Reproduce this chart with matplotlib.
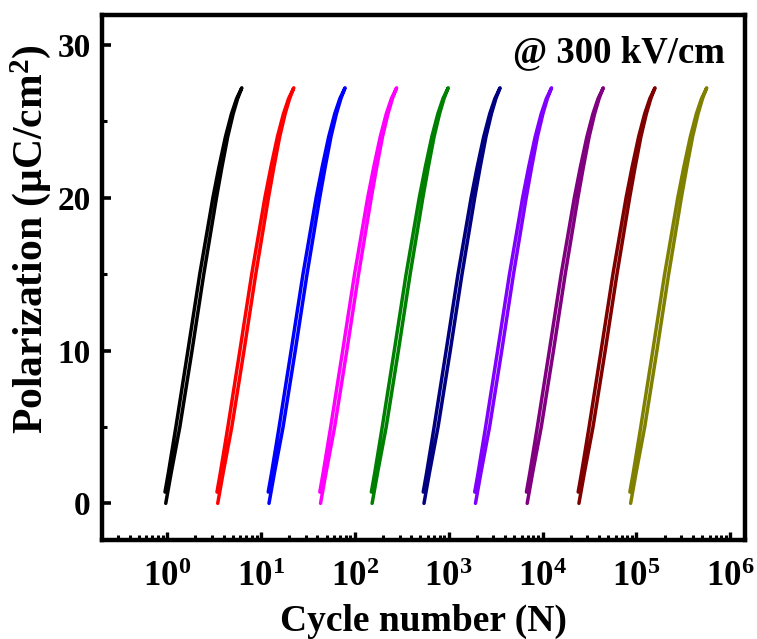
import numpy as np
import matplotlib.pyplot as plt
from matplotlib.ticker import FixedLocator, LogLocator, MultipleLocator, NullFormatter, FixedFormatter

plt.rcParams['font.family'] = ['Liberation Serif', 'DejaVu Serif']
plt.rcParams['font.weight'] = 'bold'
plt.rcParams['mathtext.fontset'] = 'custom'
plt.rcParams['mathtext.rm'] = 'Liberation Serif:bold'
plt.rcParams['mathtext.bf'] = 'Liberation Serif:bold'
plt.rcParams['mathtext.it'] = 'Liberation Serif:bold:italic'

# cycle number at the foot of each loop
cycles = [0.97, 3.47, 12.2, 43.2, 153, 546, 1930, 6860, 24400, 86700]
colors = ['black', '#ff0000', '#0000ff', '#ff00ff', '#008000',
          '#000080', '#8000ff', '#800080', '#800000', '#808000']

# loop shape: polarization and distance from the foot (decades)
p_up = [0, 2, 5, 10, 15, 20, 22, 24, 25.5, 26.5, 27.2]
dec_up = [0, 0.058, 0.15, 0.28, 0.405, 0.54, 0.598, 0.66, 0.718, 0.766, 0.81]
p_down = [27.2, 26.5, 25.5, 24, 22, 20, 15, 10, 5, 2, 0.74]
dec_down = [0.81, 0.755, 0.7, 0.636, 0.566, 0.502, 0.362, 0.236, 0.108, 0.028, -0.008]

xticks = [1, 10, 100, 1e3, 1e4, 1e5, 1e6]
xticklabels = [r'$\mathbf{10^{%d}}$' % k for k in range(7)]
yticks = [0, 10, 20, 30]

fig = plt.figure(figsize=(7.57, 6.39), dpi=100)
ax = fig.add_axes([0.1347, 0.1549, 0.8501, 0.8224])

shape_dec = np.array(dec_up + dec_down)
shape_p = p_up + p_down
for n0, c in zip(cycles, colors):
    ax.plot(n0 * 10 ** shape_dec, shape_p, color=c, lw=2.5,
            solid_joinstyle='round', solid_capstyle='round')

ax.set_xscale('log')
ax.set_xlim(0.203, 1.45e6)
ax.set_ylim(-2.4, 32)

ax.xaxis.set_major_locator(FixedLocator(xticks))
ax.xaxis.set_major_formatter(FixedFormatter(xticklabels))
ax.xaxis.set_minor_locator(LogLocator(base=10, subs=np.arange(2, 10), numticks=20))
ax.xaxis.set_minor_formatter(NullFormatter())
ax.yaxis.set_major_locator(FixedLocator(yticks))
ax.yaxis.set_minor_locator(MultipleLocator(5))

for s in ax.spines.values():
    s.set_linewidth(3.2)

ax.tick_params(axis='x', which='major', direction='in', length=5.6, width=2.4,
               labelsize=25, pad=15)
ax.tick_params(axis='x', which='minor', direction='in', length=3.4, width=2.2)
ax.tick_params(axis='y', which='major', direction='in', length=6.6, width=2.6,
               labelsize=24, pad=8)
ax.tick_params(axis='y', which='minor', direction='in', length=3.4, width=2.2)

ax.set_xlabel('Cycle number (N)', fontsize=27, fontweight='bold')
ax.set_ylabel(r'Polarization (μC/cm$^{\mathbf{2}}$)', fontsize=30, fontweight='bold')
ax.xaxis.set_label_coords(0.5, -0.121)
ax.yaxis.set_label_coords(-0.076, 0.572)

ax.text(0.968, 0.910, '@ 300 kV/cm', transform=ax.transAxes, ha='right',
        va='baseline', fontsize=26.5, fontweight='bold')

fig.savefig('out.png', dpi=100)
